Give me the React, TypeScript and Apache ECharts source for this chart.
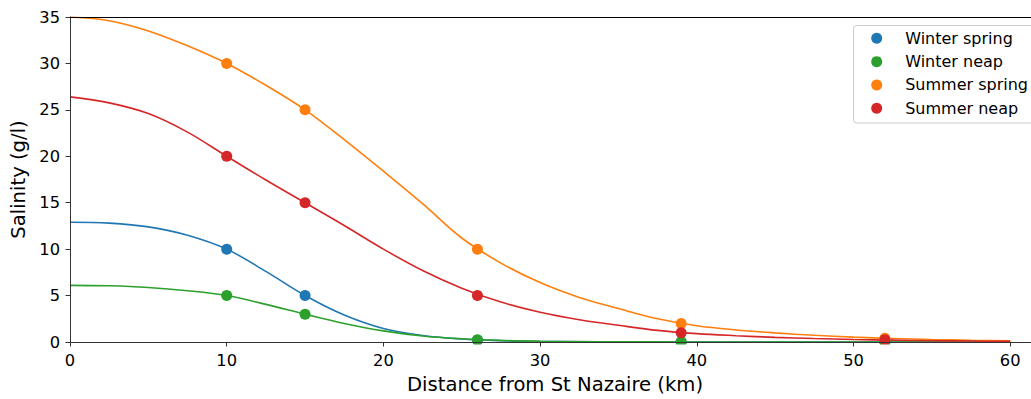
import React, { useEffect, useRef } from "react";
import * as echarts from "echarts";

// Distances (km) where the fitted curves were read
const curveX = [0, 2.5, 5, 7.5, 10, 12.5, 15, 17.5, 20, 22.5, 25, 27.5, 30, 32.5, 35, 37.5, 40, 42.5, 45, 47.5, 50, 52.5, 55, 57.5, 60];
const winterSpringCurve = [12.9, 12.8, 12.4, 11.5, 10.0, 7.6, 5.0, 2.9, 1.45, 0.7, 0.32, 0.14, 0.06, 0.03, 0.01, 0, 0, 0, 0, 0, 0, 0, 0, 0, 0];
const winterNeapCurve = [6.1, 6.05, 5.87, 5.52, 5.0, 4.05, 3.0, 2.0, 1.2, 0.65, 0.35, 0.17, 0.08, 0.04, 0.02, 0.01, 0, 0, 0, 0, 0, 0, 0, 0, 0];
const summerSpringCurve = [35.0, 34.6, 33.5, 31.9, 30.0, 27.65, 25.0, 21.8, 18.4, 14.9, 11.2, 8.5, 6.4, 4.8, 3.6, 2.5, 1.75, 1.3, 0.98, 0.72, 0.52, 0.38, 0.27, 0.19, 0.13];
const summerNeapCurve = [26.4, 25.75, 24.6, 22.6, 20.0, 17.45, 15.0, 12.55, 10.0, 7.7, 5.8, 4.3, 3.2, 2.4, 1.8, 1.25, 0.9, 0.68, 0.5, 0.37, 0.27, 0.2, 0.14, 0.1, 0.07];

// Observed points
const obsX = [10, 15, 26, 39, 52];
const winterSpringObs = [10, 5, 0.2, 0, 0];
const winterNeapObs = [5, 3, 0.25, 0.03, 0];
const summerSpringObs = [30, 25, 10, 2, 0.4];
const summerNeapObs = [20, 15, 5, 1, 0.25];

const names = ["Winter spring", "Winter neap", "Summer spring", "Summer neap"];
const colors = ["#1f77b4", "#2ca02c", "#ff7f0e", "#d62728"];
const curves = [winterSpringCurve, winterNeapCurve, summerSpringCurve, summerNeapCurve];
const observations = [winterSpringObs, winterNeapObs, summerSpringObs, summerNeapObs];

const FONT = "DejaVu Sans";

export default function App() {
  const ref = useRef<HTMLDivElement>(null);
  useEffect(() => {
    const chart = echarts.init(ref.current!, null, { renderer: "svg" });
    const series: any[] = [];
    names.forEach((n, i) => {
      series.push({
        name: n + " fit",
        type: "line",
        data: curveX.map((x, k) => [x, curves[i][k]]),
        smooth: 0.35,
        showSymbol: false,
        symbol: "none",
        lineStyle: { color: colors[i], width: 1.6 },
        z: 2,
        silent: true,
      });
    });
    names.forEach((n, i) => {
      series.push({
        name: n,
        type: "scatter",
        data: obsX.map((x, k) => [x, observations[i][k]]),
        symbol: "circle",
        symbolSize: 11,
        itemStyle: { color: colors[i], opacity: 1 },
        z: 3,
        clip: false,
      });
    });
    const axisCommon = {
      type: "value",
      min: 0,
      max: 61.9,
      interval: 10,
    };
    chart.setOption({
      animation: false,
      backgroundColor: "#fff",
      textStyle: { fontFamily: FONT },
      grid: {
        left: 70,
        top: 17,
        right: 0,
        bottom: 55,
        show: false,
      },
      legend: {
        data: names,
        orient: "vertical",
        left: 853,
        top: 25,
        icon: "circle",
        itemWidth: 11,
        itemHeight: 11,
        itemGap: 7.33,
        padding: [5.3, 0, 6.4, 18.2],
        z: 20,
        textStyle: { fontSize: 16, color: "#000", lineHeight: 16, padding: [0, 0, 0, 18], fontFamily: FONT },
      },
      graphic: [
        {
          type: "rect",
          shape: { x: 60, y: 344.5, width: 1000, height: 8 },
          style: { fill: "#fff" },
          z: 5,
          silent: true,
        },
        {
          type: "rect",
          shape: { x: 853.5, y: 25.5, width: 220, height: 97.5, r: 3 },
          style: { fill: "#fff", stroke: "#cccccc", lineWidth: 1 },
          z: 15,
          silent: true,
        },
      ],
      xAxis: [
        {
          ...axisCommon,
          position: "bottom",
          z: 6,
          axisLine: { show: true, lineStyle: { color: "#333", width: 1 } },
          axisTick: { show: true, length: 4.5, lineStyle: { color: "#333", width: 1 } },
          axisLabel: {
            fontSize: 16.3,
            color: "#000",
            margin: 10,
            showMaxLabel: false,
            fontFamily: FONT,
            formatter: (v: number) => (v % 10 === 0 ? String(v) : ""),
          },
          splitLine: { show: false },
          name: "Distance from St Nazaire (km)",
          nameLocation: "middle",
          nameGap: 32,
          nameTextStyle: { fontSize: 19.6, color: "#000", fontFamily: FONT },
        },
        {
          ...axisCommon,
          position: "top",
          z: 6,
          axisLine: { show: true, lineStyle: { color: "#000", width: 1 } },
          axisTick: { show: false },
          axisLabel: { show: false },
          splitLine: { show: false },
        },
      ],
      yAxis: {
        type: "value",
        min: 0,
        max: 35,
        interval: 5,
        z: 6,
        axisLine: { show: true, lineStyle: { color: "#333", width: 1 } },
        axisTick: { show: true, length: 4.5, lineStyle: { color: "#333", width: 1 } },
        axisLabel: { fontSize: 16.3, color: "#000", margin: 10, fontFamily: FONT },
        splitLine: { show: false },
        name: "Salinity (g/l)",
        nameLocation: "middle",
        nameGap: 41,
        nameTextStyle: { fontSize: 19.6, color: "#000", fontFamily: FONT },
      },
      series,
    });
    return () => chart.dispose();
  }, []);
  return (
    <div
      ref={ref}
      style={{ position: "fixed", left: 0, top: 0, width: 1040, height: 399, background: "#fff" }}
    />
  );
}
